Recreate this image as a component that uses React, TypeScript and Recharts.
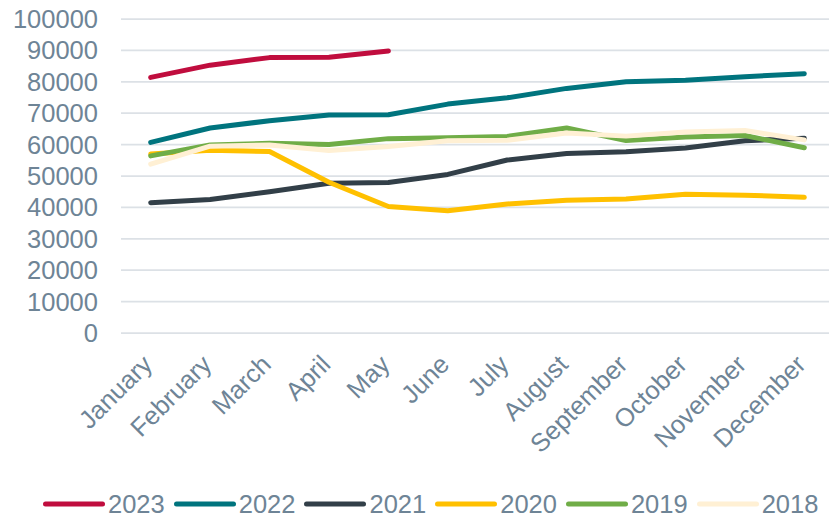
import React from "react";
import { LineChart, Line, XAxis, YAxis, CartesianGrid, Legend } from "recharts";

const months = ["January", "February", "March", "April", "May", "June", "July", "August", "September", "October", "November", "December"];
const yTicks = [0, 10000, 20000, 30000, 40000, 50000, 60000, 70000, 80000, 90000, 100000];

const s2023 = [81400, 85300, 87700, 87800, 89800];
const s2022 = [60700, 65300, 67600, 69400, 69500, 72900, 74900, 77900, 80000, 80500, 81600, 82600];
const s2021 = [41500, 42500, 45000, 47700, 47900, 50500, 55100, 57200, 57700, 58900, 61200, 62000];
const s2020 = [57000, 58200, 57800, 48000, 40300, 38900, 41100, 42300, 42700, 44200, 43900, 43200];
const s2019 = [56400, 59900, 60400, 60000, 61900, 62200, 62600, 65300, 61300, 62400, 62900, 59000];
const s2018 = [53800, 59500, 59900, 58100, 59400, 61200, 61400, 63700, 62700, 64000, 64500, 61500];

const seriesNames = ["2023", "2022", "2021", "2020", "2019", "2018"];
const seriesValues = [s2023, s2022, s2021, s2020, s2019, s2018];
const seriesColors = ["#C00D3E", "#00747E", "#323F48", "#FFC000", "#70AD47", "#FFF0D4"];

const data = months.map((m, i) => {
  const row: Record<string, any> = { month: m };
  seriesNames.forEach((n, k) => {
    row["y" + n] = seriesValues[k][i];
  });
  return row;
});

const FONT = "'Liberation Sans', Arial, sans-serif";
const TEXT = "#6E8496";
const FS = 25.5;

const XTick = (props: any) => {
  const { x, y, payload } = props;
  return (
    <text
      x={x + 3}
      y={y + 33}
      textAnchor="end"
      fill={TEXT}
      fontSize={FS}
      fontFamily={FONT}
      transform={`rotate(-45, ${x + 3}, ${y + 33})`}
    >
      {payload.value}
    </text>
  );
};

const LegendContent = () => (
  <div
    style={{
      height: 40,
      paddingTop: 10,
      boxSizing: "border-box",
      display: "flex",
      alignItems: "center",
      paddingLeft: 43,
      fontFamily: FONT,
      fontSize: FS,
      color: TEXT,
    }}
  >
    {seriesNames.map((n, k) => (
      <div key={n} style={{ display: "flex", alignItems: "center", marginRight: 9 }}>
        <svg width={62} height={10} style={{ display: "block" }}>
          <line x1={2.5} y1={5} x2={59.5} y2={5} stroke={seriesColors[k]} strokeWidth={5} strokeLinecap="round" />
        </svg>
        <span style={{ marginLeft: 3, lineHeight: "30px" }}>{n}</span>
      </div>
    ))}
  </div>
);

export default function App() {
  return (
    <div style={{ position: "fixed", left: 0, top: 0, width: 829, height: 519, overflow: "hidden", background: "#fff" }}>
      <LineChart width={840} height={519} data={data} margin={{ top: 19, right: 6, left: 0, bottom: 0 }}>
        <CartesianGrid vertical={false} stroke="#DCE1E6" strokeWidth={1.75} />
        <XAxis
          dataKey="month"
          axisLine={false}
          tickLine={false}
          tickSize={0}
          tickMargin={0}
          height={146}
          interval={0}
          padding={{ left: 29.7, right: 29.7 }}
          tick={<XTick />}
        />
        <YAxis
          domain={[0, 100000]}
          ticks={yTicks}
          interval={0}
          axisLine={false}
          tickLine={false}
          tickSize={0}
          tickMargin={23}
          width={121}
          tick={{ fill: TEXT, fontSize: FS, fontFamily: FONT }}
        />
        <Legend verticalAlign="bottom" height={40} content={<LegendContent />} />
        {seriesNames.map((n, k) => (
          <Line
            key={n}
            type="linear"
            dataKey={"y" + n}
            name={n}
            stroke={seriesColors[k]}
            strokeWidth={5}
            strokeLinecap="round"
            strokeLinejoin="round"
            dot={false}
            activeDot={false}
            isAnimationActive={false}
          />
        ))}
      </LineChart>
    </div>
  );
}
